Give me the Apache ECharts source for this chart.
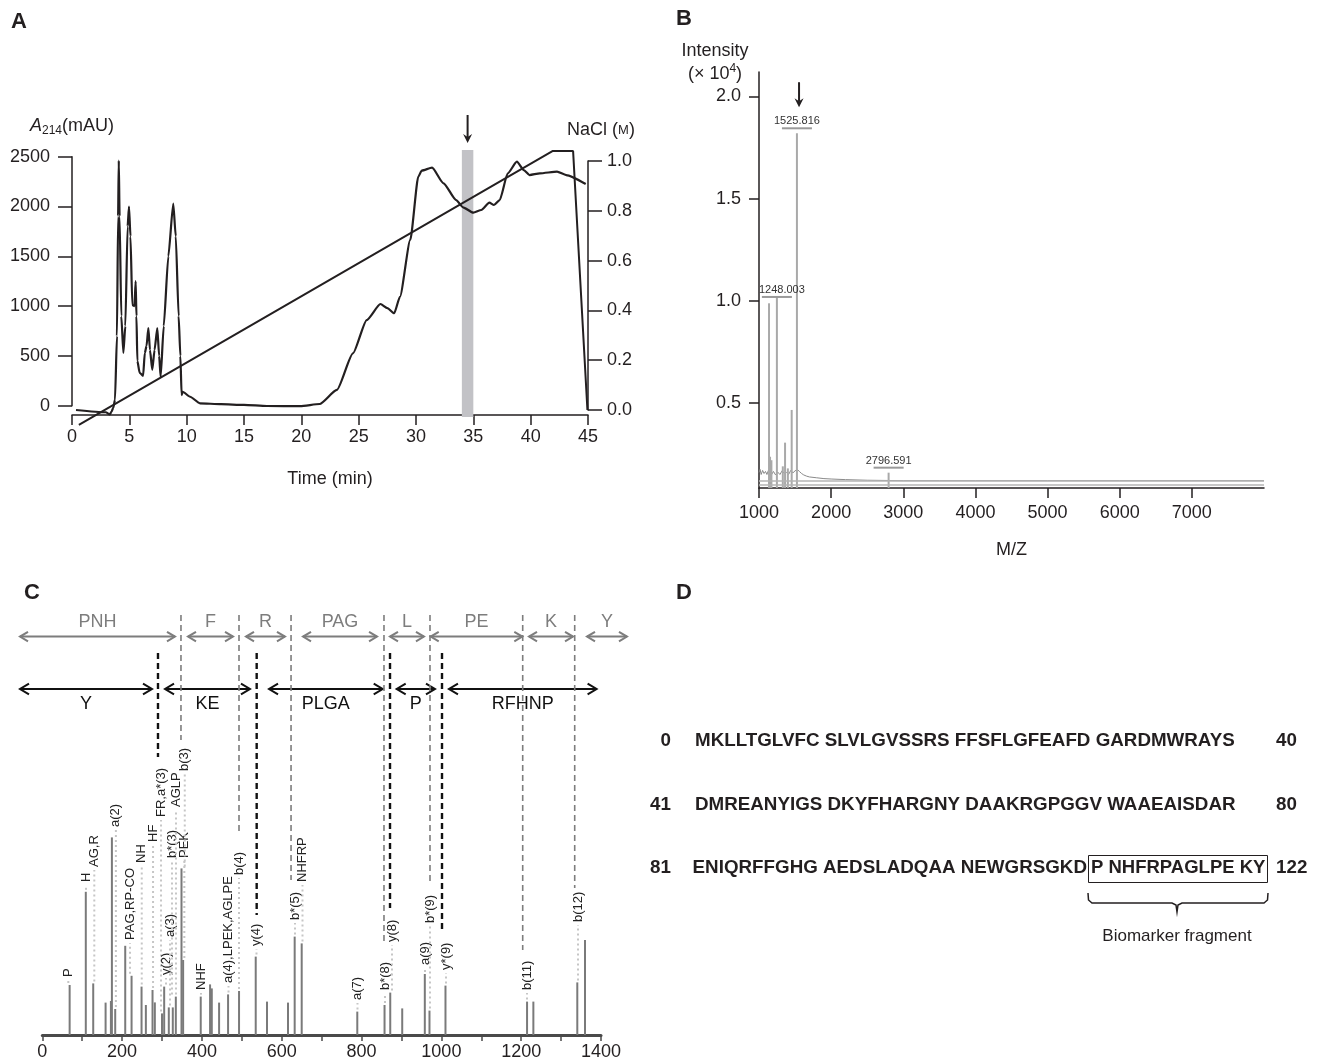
<!DOCTYPE html>
<html>
<head>
<meta charset="utf-8">
<title>Biomarker fragment</title>
<script src="https://cdn.jsdelivr.net/npm/echarts@6/dist/echarts.min.js"></script>
<style>
  html, body { margin: 0; padding: 0; background: #fff; }
  #chart { width: 1320px; height: 1063px; }
</style>
</head>
<body>
<div id="chart"></div>
<script>
// ---- Panel A: anion-exchange chromatogram ----
const chromTime = [0.35, 2.95, 3.3, 3.45, 3.6, 3.75, 3.92, 4.02, 4.08, 4.15, 4.3, 4.48, 4.65, 4.85, 4.97, 5.1, 5.26, 5.45, 5.55, 5.62, 5.7, 5.9,
  6.2, 6.35, 6.5, 6.66, 6.8, 7.0, 7.2, 7.44, 7.6, 7.73, 8.0, 8.4, 8.83, 9.05, 9.3, 9.45, 9.56, 9.65, 10.3, 11.16, 13, 15, 17, 19.9,
  21.6, 23.1, 24.5, 25.7, 26.9, 27.5, 28.1, 28.6, 29.5, 30.2, 30.5, 31.4, 32.4, 33.5, 34.1, 35.0, 35.7, 36.4, 36.8, 37.3, 38.0, 38.8,
  39.4, 39.9, 40.8, 42.3, 43.1, 44.8];
const chromA214 = [-43, -66, -88, -60, -20, 60, 700, 1900, 2460, 1900, 900, 530, 800, 1800, 2000, 1700, 1010, 1000, 1250, 900, 450, 330,
  300, 530, 600, 780, 560, 360, 560, 780, 500, 290, 800, 1500, 2030, 1700, 900, 500, 107, 140, 90, 24, 15, 8, -3, -5,
  17, 158, 526, 860, 1021, 980, 928, 1094, 1664, 2300, 2360, 2390, 2233, 2065, 1992, 1938, 1965, 2038, 2015, 2065, 2333, 2450,
  2366, 2316, 2333, 2350, 2316, 2226];
const naclTime = [0.6, 41.9, 43.7, 44.95];
const naclConc = [-0.06, 1.04, 1.04, 0];
const fractionBand = [34.0, 35.0];

// ---- Panel B: MALDI spectrum ----
const msNoiseMz = [1000, 1015, 1030, 1050, 1070, 1090, 1110, 1130, 1150, 1175, 1200, 1230, 1260, 1290, 1320, 1350, 1380, 1410, 1440,
  1470, 1500, 1530, 1560, 1590, 1620, 1660, 1700, 1800, 1900, 2000, 2200, 2500, 3000, 3500, 4000, 5000, 6000, 7000, 8000];
const msNoiseInt = [0.16, 0.175, 0.15, 0.17, 0.155, 0.165, 0.15, 0.17, 0.16, 0.15, 0.165, 0.148, 0.162, 0.15, 0.168, 0.155, 0.16, 0.15, 0.17,
  0.158, 0.168, 0.175, 0.165, 0.155, 0.148, 0.142, 0.138, 0.134, 0.13, 0.128, 0.125, 0.122, 0.12, 0.12, 0.12, 0.12, 0.12, 0.12, 0.12];
const msPeakMz = [1139, 1153, 1172, 1248, 1330, 1361, 1400, 1453, 1525.8, 2796.6];
const msPeakInt = [0.988, 0.237, 0.22, 1.019, 0.19, 0.306, 0.18, 0.466, 1.82, 0.159];
const msLabelMz = [1248.003, 1525.816, 2796.591];
const msBaselines = [0.123, 0.099];

// ---- Panel C: MS/MS fragment spectrum ----
const msmsMz = [68.5, 109, 127.6, 158.6, 171.9, 174.4, 182.7, 207.8, 223.7, 248.7, 259.5, 276.2, 282, 300, 305.4, 317, 327, 334.6,
  348.8, 352.9, 397, 420.4, 424.7, 443, 465.5, 493, 534.8, 563, 615.7, 632.4, 650, 789.3, 857.6, 871.9, 901.9, 958.5, 970.2, 1010.3,
  1214.7, 1230.5, 1340.6, 1359.9];
const msmsInt = [25, 71.6, 25.8, 16.2, 17, 98.8, 13, 44.6, 29.6, 24.2, 15, 22.5, 16.3, 10.8, 24.2, 13.8, 13.8, 19.2,
  83.3, 37.5, 19.2, 25.3, 23.3, 16.2, 20.3, 22, 39.2, 16.7, 16.2, 49.2, 45.8, 11.7, 15, 21.2, 13.3, 30.5, 12.2, 24.7,
  16.7, 16.7, 26.3, 47.5];
const fragText = ['P', 'H', 'AG,R', 'a(2)', 'PAG,RP-CO', 'NH', 'HF', 'FR,a*(3)', 'y(2)', 'a(3)', 'b*(3)', 'AGLP', 'PEK', 'b(3)',
  'NHF', 'a(4),LPEK,AGLPE', 'b(4)', 'y(4)', 'b*(5)', 'NHFRP', 'a(7)', 'b*(8)', 'y(8)', 'a(9)', 'b*(9)', 'y*(9)', 'b(11)', 'b(12)'];
const fragMz = [65.2, 109.5, 130.3, 184.4, 219.8, 249.2, 277.5, 297.5, 310, 320, 325, 335, 355.9, 357,
  397.6, 466.6, 492.9, 536.7, 633.2, 652, 789.8, 858.7, 876.3, 959, 971.5, 1011.6, 1214.6, 1342.4];
const fragPeak = [25, 71.6, 25.8, 13, 29.6, 24.2, 22.5, 10.8, 24.2, 13.8, 19.2, 19.2, 37.5, 83.3,
  19.2, 20.3, 22, 39.2, 49.2, 45.8, 11.7, 15, 21.2, 30.5, 12.2, 24.7, 16.7, 26.3];
// residues read between cleavage sites (grey = b-type ladder, black = y-type ladder)
const bLadderText = ['PNH', 'F', 'R', 'PAG', 'L', 'PE', 'K', 'Y'];
const bLadderFrom = [-55.9, 365.1, 510.4, 653.3, 871.2, 973.3, 1219.6, 1364.9];
const bLadderTo = [332.5, 477.9, 608.1, 838.8, 956.4, 1202.8, 1329.9, 1465.1];
const yLadderText = ['Y', 'KE', 'PLGA', 'P', 'RFHNP'];
const yLadderFrom = [-55.9, 307.5, 568.1, 888, 1019];
const yLadderTo = [274.9, 520.4, 853, 984, 1389];
const bCutMz = [347.5, 492.9, 623.3, 856.2, 971.5, 1203.8, 1334.1];
const yCutMz = [289.9, 537.2, 871.3, 1001.6];

// ---- Panel D: sequence ----
const seqStart = ['0', '41', '81'];
const seqEnd = ['40', '80', '122'];
const seqRows = ['MKLLTGLVFC SLVLGVSSRS FFSFLGFEAFD GARDMWRAYS', 'DMREANYIGS DKYFHARGNY DAAKRGPGGV WAAEAISDAR', 'ENIQRFFGHG AEDSLADQAA NEWGRSGKD'];
const fragmentSeq = 'P NHFRPAGLPE KY';

// ---- layout helpers (label heights in panel C units) ----
const fragLabelLevel = [29, 76.5, 84, 104, 47.5, 86, 96.5, 109, 30, 49, 88.5, 114, 88.5, 132,
  22.5, 26, 80, 44.5, 57.5, 76.5, 17.5, 22.5, 46.5, 35, 56, 32.5, 22.5, 56.5];
const bCutBottom = [147.5, 101, 77.5, 46, 75, 42.5, 73.5];
const yCutBottom = [139, 60, 63.5, 51];
const msLabelGap = [0, 5, 5];

const FONT = '"Liberation Sans", Arial, Helvetica, sans-serif';
const INK = '#231f20';
const GREY = '#7d7d7d';
const SEQ_FONT = 'bold 18.8px ' + FONT;

const zip = (a, b) => a.map((v, i) => [v, b[i]]);
const plain = (v) => String(v);

const axisLine = { show: true, onZero: false, lineStyle: { color: INK, width: 1.5 } };
const axisTick = (len) => ({ show: true, length: len, lineStyle: { color: INK, width: 1.5 } });
const tickFont = { color: INK, fontSize: 18, fontFamily: FONT };

function stickRenderer(base, color, width) {
  return (params, api) => {
    const top = api.coord([api.value(0), api.value(1)]);
    const bottom = api.coord([api.value(0), base]);
    return { type: 'line', shape: { x1: top[0], y1: top[1], x2: bottom[0], y2: bottom[1] },
      style: { stroke: color, lineWidth: width } };
  };
}

function ladderRenderer(labels, color, width, head, arrowLevel, textLevel) {
  return (params, api) => {
    const i = params.dataIndex;
    const a = api.coord([api.value(0), arrowLevel]);
    const b = api.coord([api.value(1), arrowLevel]);
    const t = api.coord([(api.value(0) + api.value(1)) / 2, textLevel]);
    const hw = head * 0.6;
    const st = () => ({ stroke: color, lineWidth: width, fill: null });
    return { type: 'group', children: [
      { type: 'line', shape: { x1: a[0], y1: a[1], x2: b[0], y2: b[1] }, style: st() },
      { type: 'polyline', shape: { points: [[a[0] + head, a[1] - hw], [a[0], a[1]], [a[0] + head, a[1] + hw]] }, style: st() },
      { type: 'polyline', shape: { points: [[b[0] - head, b[1] - hw], [b[0], b[1]], [b[0] - head, b[1] + hw]] }, style: st() },
      { type: 'text', x: t[0], y: t[1], style: { text: labels[i], fill: color, font: '18px ' + FONT, align: 'center', verticalAlign: 'middle' } }
    ] };
  };
}

function cutRenderer(bottoms, top, color, width) {
  return (params, api) => {
    const p0 = api.coord([api.value(0), top]);
    const p1 = api.coord([api.value(0), bottoms[params.dataIndex]]);
    return { type: 'line', shape: { x1: p0[0], y1: p0[1], x2: p1[0], y2: p1[1] },
      style: { stroke: color, lineWidth: width, lineDash: [6, 4] } };
  };
}

function downArrow(x, y1, y2) {
  return { type: 'group', children: [
    { type: 'line', shape: { x1: x, y1: y1, x2: x, y2: y2 - 6 }, style: { stroke: INK, lineWidth: 2 } },
    { type: 'polygon', shape: { points: [[x - 4.5, y2 - 9], [x, y2], [x + 4.5, y2 - 9], [x, y2 - 6]] }, style: { fill: INK } }
  ] };
}

const option = {
  animation: false,
  backgroundColor: '#fff',
  textStyle: { fontFamily: FONT, color: INK },
  grid: [
    { left: 72, top: 156.7, width: 516, height: 249, outerBoundsMode: 'none' },
    { left: 72, top: 161, width: 516, height: 249, outerBoundsMode: 'none' },
    { left: 72, top: 150, width: 516, height: 265, outerBoundsMode: 'none' },
    { left: 759, top: 72, width: 505, height: 416, outerBoundsMode: 'none' },
    { left: 42.3, top: 600, width: 558.7, height: 435, outerBoundsMode: 'none' }
  ],
  xAxis: [
    { gridIndex: 0, type: 'value', min: 0, max: 45, show: false },
    { gridIndex: 1, type: 'value', min: 0, max: 45, show: false },
    {
      gridIndex: 2, type: 'value', min: 0, max: 45, interval: 5,
      axisLine, axisTick: axisTick(10), splitLine: { show: false },
      axisLabel: { ...tickFont, margin: 13, formatter: plain },
      name: 'Time (min)', nameLocation: 'middle', nameGap: 55,
      nameTextStyle: { color: INK, fontSize: 18, fontFamily: FONT }
    },
    {
      gridIndex: 3, type: 'value', min: 1000, max: 8000, interval: 1000,
      axisLine, splitLine: { show: false },
      axisTick: { ...axisTick(10), customValues: [1000, 2000, 3000, 4000, 5000, 6000, 7000] },
      axisLabel: { ...tickFont, margin: 16, formatter: plain, customValues: [1000, 2000, 3000, 4000, 5000, 6000, 7000] },
      name: 'M/Z', nameLocation: 'middle', nameGap: 53,
      nameTextStyle: { color: INK, fontSize: 18, fontFamily: FONT }
    },
    {
      gridIndex: 4, type: 'value', min: 0, max: 1400, interval: 200,
      axisLine: { show: true, onZero: false, lineStyle: { color: '#4a4a4a', width: 3 } },
      splitLine: { show: false },
      axisTick: { show: true, length: 6, lineStyle: { color: '#4a4a4a', width: 1.5 },
        customValues: [0, 100, 200, 300, 400, 500, 600, 700, 800, 900, 1000, 1100, 1200, 1300, 1400] },
      axisLabel: { ...tickFont, margin: 8, formatter: plain }
    }
  ],
  yAxis: [
    {
      gridIndex: 0, type: 'value', min: 0, max: 2500, interval: 500, position: 'left',
      axisLine, axisTick: axisTick(14), splitLine: { show: false },
      axisLabel: { ...tickFont, margin: 22, formatter: plain },
      name: '{i|A}{s|214}{n|(mAU)}', nameLocation: 'end', nameGap: 20,
      nameTextStyle: { rich: {
        i: { fontStyle: 'italic', fontSize: 18, fontFamily: FONT, color: INK, lineHeight: 22 },
        s: { fontSize: 12, fontFamily: FONT, color: INK, lineHeight: 12, verticalAlign: 'bottom' },
        n: { fontSize: 18, fontFamily: FONT, color: INK, lineHeight: 22 }
      } }
    },
    {
      gridIndex: 1, type: 'value', min: 0, max: 1, interval: 0.2, position: 'right',
      axisLine, axisTick: axisTick(14), splitLine: { show: false },
      axisLabel: { ...tickFont, margin: 19, formatter: (v) => v.toFixed(1) },
      name: '{n|NaCl (}{m|M}{n|)}', nameLocation: 'end', nameGap: 22,
      nameTextStyle: { padding: [0, 0, 0, 26], rich: {
        n: { fontSize: 18, fontFamily: FONT, color: INK },
        m: { fontSize: 13, fontFamily: FONT, color: INK }
      } }
    },
    { gridIndex: 2, type: 'value', min: 0, max: 1, show: false },
    {
      gridIndex: 3, type: 'value', min: 0.084, max: 2.12,
      axisLine, splitLine: { show: false },
      axisTick: { ...axisTick(10), customValues: [0.5, 1, 1.5, 2] },
      axisLabel: { ...tickFont, margin: 18, customValues: [0.5, 1, 1.5, 2], formatter: (v) => v.toFixed(1) }
    },
    { gridIndex: 4, type: 'value', min: 0, max: 217.5, show: false }
  ],
  series: [
    // A: collected fraction band and arrow
    {
      type: 'custom', xAxisIndex: 2, yAxisIndex: 2, clip: false, z: 1, silent: true,
      data: [fractionBand],
      renderItem: (params, api) => {
        const p0 = api.coord([api.value(0), 1]);
        const p1 = api.coord([api.value(1), 0]);
        const mid = api.coord([(api.value(0) + api.value(1)) / 2, 1]);
        return { type: 'group', children: [
          { type: 'rect', shape: { x: p0[0], y: p0[1], width: p1[0] - p0[0], height: p1[1] - p0[1] + 2 }, style: { fill: '#c2c2c6' } },
          downArrow(mid[0], mid[1] - 35, mid[1] - 7)
        ] };
      }
    },
    {
      type: 'line', xAxisIndex: 0, yAxisIndex: 0, clip: false, z: 3, silent: true,
      data: zip(chromTime, chromA214), symbol: 'none', smooth: 0.2, smoothMonotone: 'x',
      lineStyle: { color: INK, width: 2.2 }
    },
    {
      type: 'line', xAxisIndex: 1, yAxisIndex: 1, clip: false, z: 3, silent: true,
      data: zip(naclTime, naclConc), symbol: 'none',
      lineStyle: { color: INK, width: 2 }
    },
    // B: spectrum
    {
      type: 'line', xAxisIndex: 3, yAxisIndex: 3, silent: true, z: 2,
      data: zip(msNoiseMz, msNoiseInt), symbol: 'none',
      lineStyle: { color: '#8a8a8a', width: 1 },
      markLine: {
        silent: true, symbol: 'none', label: { show: false },
        lineStyle: { color: '#b4b4b4', width: 1.5, type: 'solid' },
        data: msBaselines.map((v) => ({ yAxis: v }))
      }
    },
    {
      type: 'custom', xAxisIndex: 3, yAxisIndex: 3, clip: false, silent: true, z: 3,
      data: zip(msPeakMz, msPeakInt),
      renderItem: stickRenderer(0.084, '#a9a9a9', 2)
    },
    {
      type: 'custom', xAxisIndex: 3, yAxisIndex: 3, clip: false, silent: true, z: 4,
      data: msLabelMz.map((m) => [m, msPeakInt[msPeakMz.findIndex((p) => Math.abs(p - m) < 1)]]),
      renderItem: (params, api) => {
        const i = params.dataIndex;
        const top = api.coord([api.value(0), api.value(1)]);
        const y = top[1] - msLabelGap[i];
        const shift = i === 0 ? 5 : 0;
        return { type: 'group', children: [
          { type: 'line', shape: { x1: top[0] - 15, y1: y, x2: top[0] + 15, y2: y }, style: { stroke: '#9a9a9a', lineWidth: 2 } },
          { type: 'text', x: top[0] + shift, y: y - 7, style: { text: msLabelMz[i].toFixed(3), fill: '#333', font: '11px ' + FONT, align: 'center', verticalAlign: 'middle' } }
        ] };
      }
    },
    {
      type: 'custom', xAxisIndex: 3, yAxisIndex: 3, clip: false, silent: true,
      data: [[1555, 2.07]],
      renderItem: (params, api) => {
        const p = api.coord([api.value(0), api.value(1)]);
        return downArrow(p[0], p[1], p[1] + 25);
      }
    },
    // C: fragment spectrum
    {
      type: 'custom', xAxisIndex: 4, yAxisIndex: 4, clip: false, silent: true, z: 3,
      data: zip(msmsMz, msmsInt),
      renderItem: stickRenderer(0, '#7a7a7a', 2)
    },
    {
      type: 'custom', xAxisIndex: 4, yAxisIndex: 4, clip: false, silent: true, z: 4,
      data: zip(fragMz, fragPeak),
      renderItem: (params, api) => {
        const i = params.dataIndex;
        const from = api.coord([api.value(0), api.value(1)]);
        const at = api.coord([api.value(0), fragLabelLevel[i]]);
        const kids = [];
        if (from[1] - at[1] > 6) {
          kids.push({ type: 'line', shape: { x1: at[0], y1: from[1] - 2, x2: at[0], y2: at[1] + 3 },
            style: { stroke: '#c6c6c6', lineWidth: 2, lineDash: [2, 3] } });
        }
        kids.push({ type: 'text', x: at[0], y: at[1], rotation: Math.PI / 2,
          style: { text: fragText[i], fill: '#222', font: '13px ' + FONT, align: 'left', verticalAlign: 'middle' } });
        return { type: 'group', children: kids };
      }
    },
    {
      type: 'custom', xAxisIndex: 4, yAxisIndex: 4, clip: false, silent: true,
      data: zip(bLadderFrom, bLadderTo),
      renderItem: ladderRenderer(bLadderText, GREY, 2, 8, 199.2, 206.5)
    },
    {
      type: 'custom', xAxisIndex: 4, yAxisIndex: 4, clip: false, silent: true,
      data: zip(yLadderFrom, yLadderTo),
      renderItem: ladderRenderer(yLadderText, '#111', 2, 9, 173, 165.5)
    },
    {
      type: 'custom', xAxisIndex: 4, yAxisIndex: 4, clip: false, silent: true,
      data: bCutMz.map((m) => [m, 0]),
      renderItem: cutRenderer(bCutBottom, 210, GREY, 1.6)
    },
    {
      type: 'custom', xAxisIndex: 4, yAxisIndex: 4, clip: false, silent: true,
      data: yCutMz.map((m) => [m, 0]),
      renderItem: cutRenderer(yCutBottom, 191, '#111', 2.4)
    }
  ],
  graphic: [
    { type: 'text', x: 11, y: 22, style: { text: 'A', font: 'bold 22px ' + FONT, fill: INK, verticalAlign: 'middle' } },
    { type: 'text', x: 676, y: 19, style: { text: 'B', font: 'bold 22px ' + FONT, fill: INK, verticalAlign: 'middle' } },
    { type: 'text', x: 24, y: 593, style: { text: 'C', font: 'bold 22px ' + FONT, fill: INK, verticalAlign: 'middle' } },
    { type: 'text', x: 676, y: 593, style: { text: 'D', font: 'bold 22px ' + FONT, fill: INK, verticalAlign: 'middle' } },
    { type: 'text', x: 715, y: 51, style: { text: 'Intensity', font: '18px ' + FONT, fill: INK, align: 'center', verticalAlign: 'middle' } },
    { type: 'text', x: 715, y: 74, style: {
      text: '{n|(× 10}{s|4}{n|)}', align: 'center', verticalAlign: 'middle',
      rich: { n: { font: '18px ' + FONT, fill: INK, lineHeight: 22 }, s: { font: '12px ' + FONT, fill: INK, verticalAlign: 'top', lineHeight: 12 } }
    } },
    ...[741, 805, 868].flatMap((y, i) => [
      { type: 'text', x: 671, y, style: { text: seqStart[i], font: SEQ_FONT, fill: INK, align: 'right', verticalAlign: 'middle' } },
      { type: 'text', x: i < 2 ? 695 : 1087, y, style: { text: seqRows[i], font: SEQ_FONT, fill: INK, align: i < 2 ? 'left' : 'right', verticalAlign: 'middle' } },
      { type: 'text', x: 1276, y, style: { text: seqEnd[i], font: SEQ_FONT, fill: INK, align: 'left', verticalAlign: 'middle' } }
    ]),
    { type: 'text', x: 1091, y: 868, style: { text: fragmentSeq, font: 'bold 18.5px ' + FONT, fill: INK, align: 'left', verticalAlign: 'middle' } },
    { type: 'rect', shape: { x: 1088.5, y: 855.5, width: 179, height: 27 }, style: { fill: null, stroke: INK, lineWidth: 1 } },
    { type: 'polyline', shape: { points: [[1088, 893], [1088.5, 900], [1092, 903], [1172, 903], [1176, 905], [1177, 912],
      [1178, 905], [1182, 903], [1264, 903], [1267.5, 900], [1268, 893]] },
      style: { fill: null, stroke: INK, lineWidth: 1.5 } },
    { type: 'text', x: 1177, y: 936, style: { text: 'Biomarker fragment', font: '17px ' + FONT, fill: INK, align: 'center', verticalAlign: 'middle' } }
  ]
};

const chart = echarts.init(document.getElementById('chart'));
chart.setOption(option);
</script>
</body>
</html>
